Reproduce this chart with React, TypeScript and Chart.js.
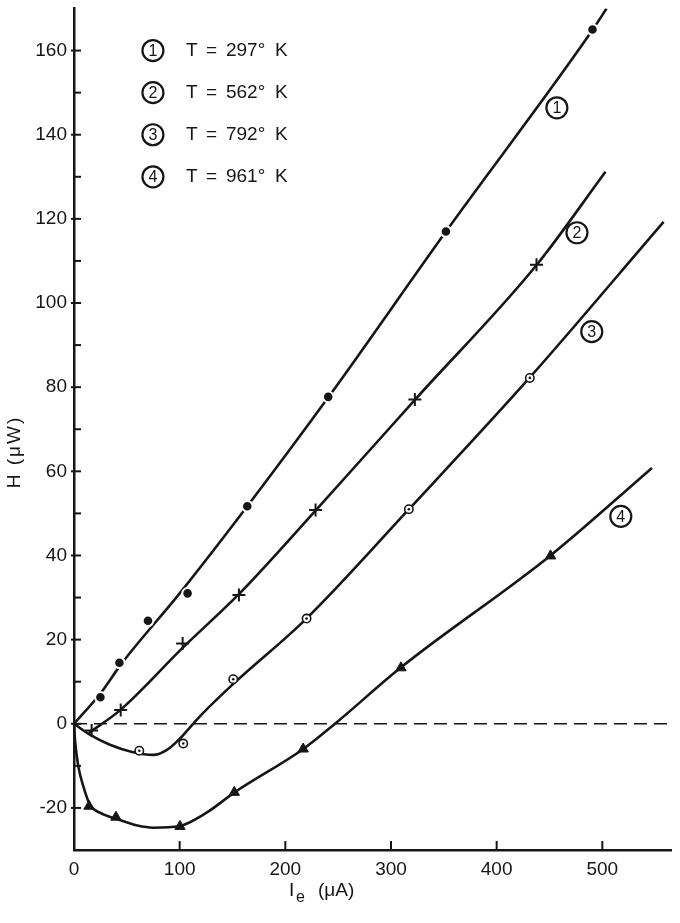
import { useEffect, useRef } from 'react'
import { Chart, registerables } from 'chart.js'

Chart.register(...registerables)

const INK = '#161616'
const FONT = '"Liberation Sans", Arial, sans-serif'

const X_MAX = 565
const Y_MIN = -30
const Y_MAX = 170

const dots1X = [25, 43, 70, 107.5, 164, 240.6, 352, 490.7]
const dots1Y = [6.3, 14.5, 24.5, 31.0, 51.7, 77.7, 117.0, 165.0]
const cross2X = [16.7, 44.2, 102.8, 156.1, 228.6, 322.6, 437.7]
const cross2Y = [-1.6, 3.3, 19.1, 30.6, 50.8, 77.1, 109.1]
const ring3X = [61.8, 103.4, 150.7, 220.1, 316.9, 431.4]
const ring3Y = [-6.4, -4.7, 10.6, 25.0, 51.0, 82.2]
const tri4X = [14.2, 39.7, 100.3, 151.7, 216.9, 309.4, 451]
const tri4Y = [-19.6, -22.2, -24.4, -16.3, -6.0, 13.3, 39.9]

// drawn curves
const curve1X = [0, 25, 45, 100, 164, 241, 352, 491, 504]
const curve1Y = [0, 7.2, 14.3, 31, 51.7, 77.7, 117, 165, 170]
const curve2X = [14, 44, 103, 156, 229, 323, 438, 503]
const curve2Y = [-2.2, 3.3, 18.1, 30.8, 50.8, 77.1, 109.1, 131.2]
const curve3X = [0, 15, 34, 55, 75, 88, 100, 110, 120, 150, 220, 317, 431, 558]
const curve3Y = [0, -2.6, -5, -6.7, -7.4, -6.2, -3.6, -0.8, 2, 9.3, 25, 51, 82.2, 119.3]
const curve4X = [0, 1, 4, 9, 15, 25, 40, 60, 75, 100, 125, 152, 217, 247, 309, 451, 547]
const curve4Y = [0, -4, -10, -15, -19.2, -21.2, -22.6, -24.2, -24.7, -24.3, -21.2, -16.3, -6, 0, 13.3, 40, 60.8]

const zeroX = [0, X_MAX]
const zeroY = [0, 0]

// legend and curve tags
const seriesNo = ['1', '2', '3', '4']
const temps = ['297', '562', '792', '961']
const legendY = [160, 150, 140, 130]
const legendX = 74.7
const tagX = [457, 476, 490, 517.5]
const tagY = [146.4, 116.7, 93.2, 49.3]

const toXY = (xs: number[], ys: number[]) => xs.map((x, i) => ({ x, y: ys[i] }))

const circled = (ctx: CanvasRenderingContext2D, cx: number, cy: number, n: string) => {
  ctx.beginPath()
  ctx.lineWidth = 2.2
  ctx.arc(cx, cy, 10.5, 0, Math.PI * 2)
  ctx.stroke()
  ctx.font = `16px ${FONT}`
  ctx.textAlign = 'center'
  ctx.textBaseline = 'middle'
  ctx.fillText(n, cx, cy + 1)
}

const decor = {
  id: 'decor',
  afterDraw(chart: any) {
    const { ctx, chartArea } = chart
    const x = chart.scales.x
    const y = chart.scales.y
    ctx.save()
    ctx.strokeStyle = INK
    ctx.fillStyle = INK
    ctx.lineWidth = 2

    for (const t of y.ticks) {
      const v = t.value
      if (v <= Y_MIN || v >= Y_MAX) continue
      const py = y.getPixelForValue(v)
      const major = v % 20 === 0
      ctx.beginPath()
      ctx.moveTo(chartArea.left - (major ? 3 : 0), py)
      ctx.lineTo(chartArea.left + 7, py)
      ctx.stroke()
    }
    for (const t of x.ticks) {
      const v = t.value
      if (v <= 0 || v >= X_MAX) continue
      const px = x.getPixelForValue(v)
      ctx.beginPath()
      ctx.moveTo(px, chartArea.bottom)
      ctx.lineTo(px, chartArea.bottom - 9)
      ctx.stroke()
    }

    // legend
    seriesNo.forEach((n, i) => {
      const cx = x.getPixelForValue(legendX)
      const cy = y.getPixelForValue(legendY[i])
      circled(ctx, cx, cy, n)
      ctx.font = `19px ${FONT}`
      ctx.textAlign = 'left'
      ctx.textBaseline = 'middle'
      ctx.fillText('T', cx + 33, cy)
      ctx.fillText('=', cx + 53, cy)
      ctx.fillText(temps[i] + '°', cx + 73, cy)
      ctx.fillText('K', cx + 122, cy)
    })

    // curve tags
    seriesNo.forEach((n, i) => {
      circled(ctx, x.getPixelForValue(tagX[i]), y.getPixelForValue(tagY[i]), n)
    })

    // axis titles
    ctx.font = `19px ${FONT}`
    ctx.textBaseline = 'middle'
    ctx.textAlign = 'left'
    const tx = 289
    const ty = 891
    ctx.fillText('I', tx, ty)
    ctx.font = `16px ${FONT}`
    ctx.fillText('e', tx + 7, ty + 7)
    ctx.font = `19px ${FONT}`
    ctx.fillText('(μA)', tx + 29, ty)

    ctx.translate(15, 452)
    ctx.rotate(-Math.PI / 2)
    ctx.textAlign = 'center'
    ;(ctx as any).letterSpacing = '2px'
    ctx.fillText('H (μW)', 0, 0)
    ctx.restore()
  },
}

export default function App() {
  const canvasRef = useRef<HTMLCanvasElement | null>(null)

  useEffect(() => {
    if (!canvasRef.current) return
    const curve = (xs: number[], ys: number[]) => ({
      data: toXY(xs, ys),
      showLine: true,
      borderColor: INK,
      borderWidth: 2.6,
      pointRadius: 0,
      cubicInterpolationMode: 'monotone' as const,
      order: 3,
    })
    const chart = new Chart(canvasRef.current, {
      type: 'scatter',
      data: {
        datasets: [
          curve(curve1X, curve1Y),
          curve(curve2X, curve2Y),
          curve(curve3X, curve3Y),
          curve(curve4X, curve4Y),
          {
            data: toXY(zeroX, zeroY),
            showLine: true,
            borderColor: INK,
            borderWidth: 1.6,
            borderDash: [13, 7],
            pointRadius: 0,
            order: 4,
          },
          {
            data: toXY(dots1X, dots1Y),
            pointStyle: 'circle',
            pointRadius: 5.3,
            backgroundColor: INK,
            borderColor: '#fff',
            borderWidth: 2,
            order: 1,
          },
          {
            data: toXY(cross2X, cross2Y),
            pointStyle: 'cross',
            pointRadius: 6.5,
            borderColor: INK,
            borderWidth: 2,
            order: 1,
          },
          {
            data: toXY(ring3X, ring3Y),
            pointStyle: 'circle',
            pointRadius: 4.2,
            backgroundColor: '#fff',
            borderColor: INK,
            borderWidth: 1.6,
            order: 1,
          },
          {
            data: toXY(ring3X, ring3Y),
            pointStyle: 'circle',
            pointRadius: 1.3,
            backgroundColor: INK,
            borderWidth: 0,
            order: 0,
          },
          {
            data: toXY(tri4X, tri4Y),
            pointStyle: 'triangle',
            pointRadius: 6,
            backgroundColor: INK,
            borderColor: INK,
            borderWidth: 1,
            order: 1,
          },
        ],
      },
      options: {
        animation: false,
        responsive: false,
        layout: { padding: { top: 7, right: 9, left: 0, bottom: 0 } },
        plugins: { legend: { display: false }, tooltip: { enabled: false } },
        scales: {
          x: {
            type: 'linear',
            min: 0,
            max: X_MAX,
            grid: { display: false, drawTicks: false },
            border: { display: true, color: INK, width: 2.5 },
            ticks: {
              stepSize: 100,
              autoSkip: false,
              maxRotation: 0,
              padding: 8,
              color: INK,
              font: { family: FONT, size: 19 },
              callback: (v: any) => (Number(v) % 100 === 0 ? String(v) : ''),
            },
            afterFit: (s: any) => {
              s.height = 73
              s.paddingLeft = 0
              s.paddingRight = 0
            },
          },
          y: {
            type: 'linear',
            min: Y_MIN,
            max: Y_MAX,
            grid: { display: false, drawTicks: false },
            border: { display: true, color: INK, width: 2.5 },
            ticks: {
              stepSize: 10,
              autoSkip: false,
              padding: 7,
              color: INK,
              font: { family: FONT, size: 19 },
              callback: (v: any) => (Number(v) % 20 === 0 ? String(v) : ''),
            },
            afterFit: (s: any) => {
              s.width = 74
              s.paddingTop = 0
              s.paddingBottom = 0
            },
          },
        },
      },
      plugins: [decor],
    })
    return () => chart.destroy()
  }, [])

  return (
    <div style={{ position: 'fixed', left: 0, top: 0, width: 680, height: 923, background: '#fff' }}>
      <canvas ref={canvasRef} width={680} height={923} />
    </div>
  )
}
